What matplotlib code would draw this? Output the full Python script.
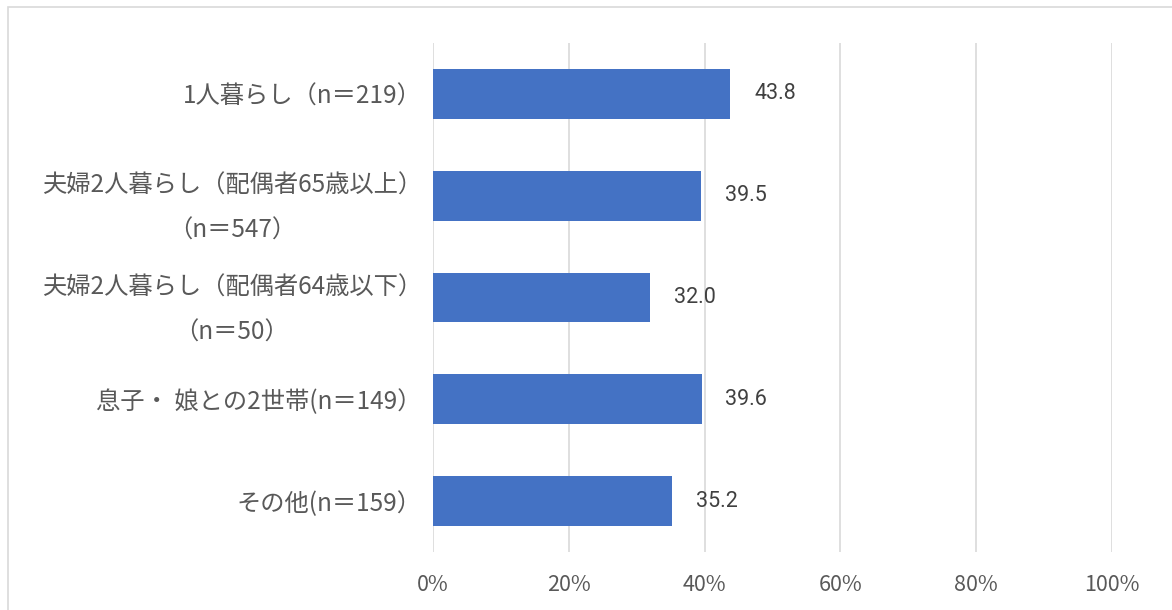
import matplotlib.pyplot as plt
import matplotlib.patches as patches
import numpy as np

plt.rcParams['font.family'] = ['Noto Sans CJK JP', 'DejaVu Sans']

labels = ['1人暮らし（n＝219）',
          '夫婦2人暮らし（配偶者65歳以上）\n（n＝547）',
          '夫婦2人暮らし（配偶者64歳以下）\n（n＝50）',
          '息子・ 娘との2世帯(n＝149）',
          'その他(n＝159）']
values = [43.8, 39.5, 32.0, 39.6, 35.2]
ticks = [0, 20, 40, 60, 80, 100]

gray = '#595959'
fig = plt.figure(figsize=(11.72, 6.10), dpi=100)
ax = fig.add_axes([433 / 1172, 1 - 552 / 610, 679 / 1172, 509 / 610])

# outer chart border
fig.patches.append(patches.Rectangle((8 / 1172, -0.01), 1.2, 1 - 7 / 610 + 0.01,
                                     transform=fig.transFigure, fill=False,
                                     edgecolor='#D9D9D9', linewidth=1.2))

y = np.arange(len(labels))
ax.barh(y, values, height=0.49, color='#4472C4', zorder=3)
for yi, v in zip(y, values):
    ax.annotate(f'{v:.1f}', (v, yi), xytext=(17, 0), textcoords='offset points',
                ha='left', va='center', fontsize=15.5, color='#404040',
                family=['Roboto', 'DejaVu Sans'])

ax.set_xlim(0, 100)
ax.set_ylim(len(labels) - 0.5, -0.5)
ax.set_xticks(ticks)
ax.set_xticklabels([f'{t}%' for t in ticks], fontsize=15.5, color=gray)
ax.set_yticks(y)
ax.set_yticklabels(labels, fontsize=17.5, color=gray, linespacing=1.95)
for lab in ax.get_yticklabels():
    lab.set_multialignment('center')
ax.tick_params(axis='both', length=0)
ax.tick_params(axis='y', pad=8)
ax.tick_params(axis='x', pad=16)
ax.xaxis.grid(True, color='#D9D9D9', linewidth=1.2, zorder=0)
for s in ax.spines.values():
    s.set_visible(False)

fig.savefig('out.png', dpi=100)
